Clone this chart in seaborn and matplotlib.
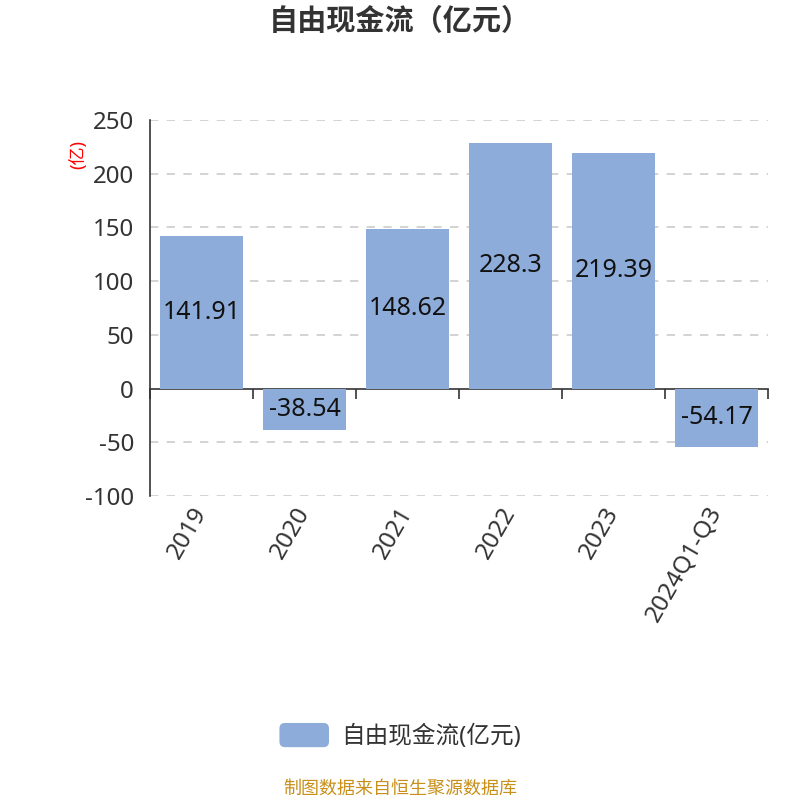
import matplotlib
matplotlib.use("Agg")
import matplotlib.pyplot as plt
import seaborn as sns
import pandas as pd
import numpy as np
from matplotlib.patches import Patch, FancyBboxPatch
from matplotlib.legend_handler import HandlerPatch

# chart data
years = ["2019", "2020", "2021", "2022", "2023", "2024Q1-Q3"]
cash_flow = [141.91, -38.54, 148.62, 228.3, 219.39, -54.17]
y_ticks = [-100, -50, 0, 50, 100, 150, 200, 250]

title = "自由现金流（亿元）"
series_name = "自由现金流(亿元)"
unit_label = "(亿)"
source_note = "制图数据来自恒生聚源数据库"

bar_color = "#8eacd9"
text_color = "#333333"


class RoundedHandler(HandlerPatch):
    # legend swatch with rounded corners
    def create_artists(self, legend, orig_handle, xdescent, ydescent,
                       width, height, fontsize, trans):
        p = FancyBboxPatch((-xdescent, -ydescent), width, height,
                           boxstyle="round,pad=0,rounding_size=4",
                           facecolor=orig_handle.get_facecolor(),
                           edgecolor="none", transform=trans)
        return [p]


sns.set_theme(style="white")
plt.rcParams["font.family"] = ["Noto Sans", "Noto Sans CJK SC", "DejaVu Sans"]
plt.rcParams["axes.unicode_minus"] = False

df = pd.DataFrame({"year": years, "value": cash_flow})

fig = plt.figure(figsize=(8, 8), dpi=100)
ax = fig.add_axes([0.1875, 0.38, 0.7725, 0.47])

sns.barplot(data=df, x="year", y="value", color=bar_color, width=0.8,
            saturation=1, linewidth=0, ax=ax)

ax.set_ylim(y_ticks[0], y_ticks[-1])
ax.set_xlim(-0.5, len(years) - 0.5)
ax.set_yticks(y_ticks)
for t in y_ticks:
    if t != 0:
        ax.axhline(t, color="#cccccc", linestyle=(0, (5, 5)), linewidth=1.2, zorder=0)

# value labels inside bars
for i, v in enumerate(cash_flow):
    ax.text(i, v / 2, f"{v:g}", ha="center", va="center", fontsize=18,
            color="#111111", zorder=5)

ax.spines["top"].set_visible(False)
ax.spines["right"].set_visible(False)
ax.spines["bottom"].set_visible(False)
ax.spines["left"].set_color(text_color)
ax.spines["left"].set_linewidth(1.2)

ax.tick_params(axis="y", which="major", direction="out", length=7, width=1.2,
               color=text_color, labelcolor=text_color, labelsize=17.3, pad=4.5)
ax.tick_params(axis="x", which="major", length=0, labelcolor=text_color,
               labelsize=17.5, pad=9)
ax.set_xticks(range(len(years)))
ax.set_xticklabels(years, rotation=60, ha="right", va="center",
                   rotation_mode="anchor")
ax.set_xlabel("")

# zero axis with boundary ticks
zero_ax = ax.secondary_xaxis(0, transform=ax.transData)
zero_ax.set_xticks(np.arange(len(years) + 1) - 0.5)
zero_ax.set_xticklabels([])
zero_ax.tick_params(direction="out", length=7, width=1.2, color=text_color)
zero_ax.spines["bottom"].set_color(text_color)
zero_ax.spines["bottom"].set_linewidth(1.2)

ax.set_ylabel(unit_label, color="red", fontsize=13, rotation=90)
ax.yaxis.set_label_coords(-0.102, 0.907)

fig.text(0.5, 0.972, title, ha="center", va="center", fontsize=21,
         fontweight="bold", color=text_color)

handle = Patch(facecolor=bar_color, edgecolor=bar_color)
fig.legend([handle], [series_name], loc="center", bbox_to_anchor=(0.5, 0.08),
           frameon=False, fontsize=17, handlelength=2.1, handleheight=1.2,
           handletextpad=0.5, labelcolor=text_color,
           handler_map={Patch: RoundedHandler()})

fig.text(0.5, 0.014, source_note, ha="center", va="center", fontsize=13,
         color="#c8901a")

fig.savefig("out.png", dpi=100)
